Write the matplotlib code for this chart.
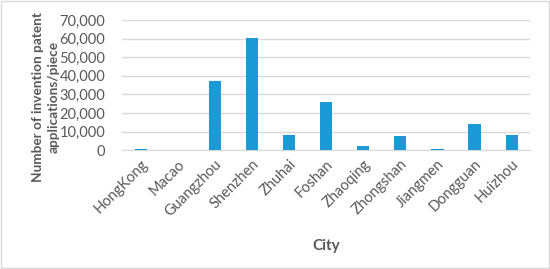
import matplotlib.pyplot as plt
import numpy as np
from matplotlib.patches import Rectangle

cities = ['HongKong', 'Macao', 'Guangzhou', 'Shenzhen', 'Zhuhai', 'Foshan',
          'Zhaoqing', 'Zhongshan', 'Jiangmen', 'Dongguan', 'Huizhou']
patents = [700, 50, 36900, 60200, 8300, 25700, 2000, 7600, 700, 13800, 8000]

grey = '#595959'
plt.rcParams['font.family'] = ['Lato', 'DejaVu Sans']

fig = plt.figure(figsize=(5.5, 2.69), dpi=100)
ax = fig.add_axes([0.222, 0.442, 0.742, 0.484])

x = np.arange(len(cities))
ax.bar(x, patents, width=0.33, color='#1b9ad6', zorder=3)

ax.set_ylim(0, 70000)
ax.set_xlim(-0.5, len(cities) - 0.5)
ax.set_yticks(np.arange(0, 70001, 10000))
ax.set_yticklabels([f'{v:,}' for v in range(0, 70001, 10000)])
ax.yaxis.grid(True, color='#d9d9d9', linewidth=1, zorder=0)
ax.set_xticks(x)
ax.set_xticklabels(cities, rotation=45, ha='right', rotation_mode='anchor')
ax.tick_params(axis='both', length=0, colors=grey, labelsize=10.5)
ax.tick_params(axis='y', pad=12)
ax.tick_params(axis='x', pad=5)

for s in ['top', 'right', 'left']:
    ax.spines[s].set_visible(False)
ax.spines['bottom'].set_color('#d9d9d9')

ax.set_xlabel('City', fontsize=11, fontweight='bold', color=grey)
ax.xaxis.set_label_coords(0.5, -0.68)
ax.set_ylabel('Number of invention patent\napplications/piece', fontsize=9.8,
              fontweight='bold', color=grey, linespacing=1.4)
ax.yaxis.set_label_coords(-0.152, 0.405)

fig.patches.append(Rectangle((0.002, 0.004), 0.996, 0.992, transform=fig.transFigure,
                             fill=False, edgecolor='#d9d9d9', linewidth=1))

fig.savefig('out.png', dpi=100)
